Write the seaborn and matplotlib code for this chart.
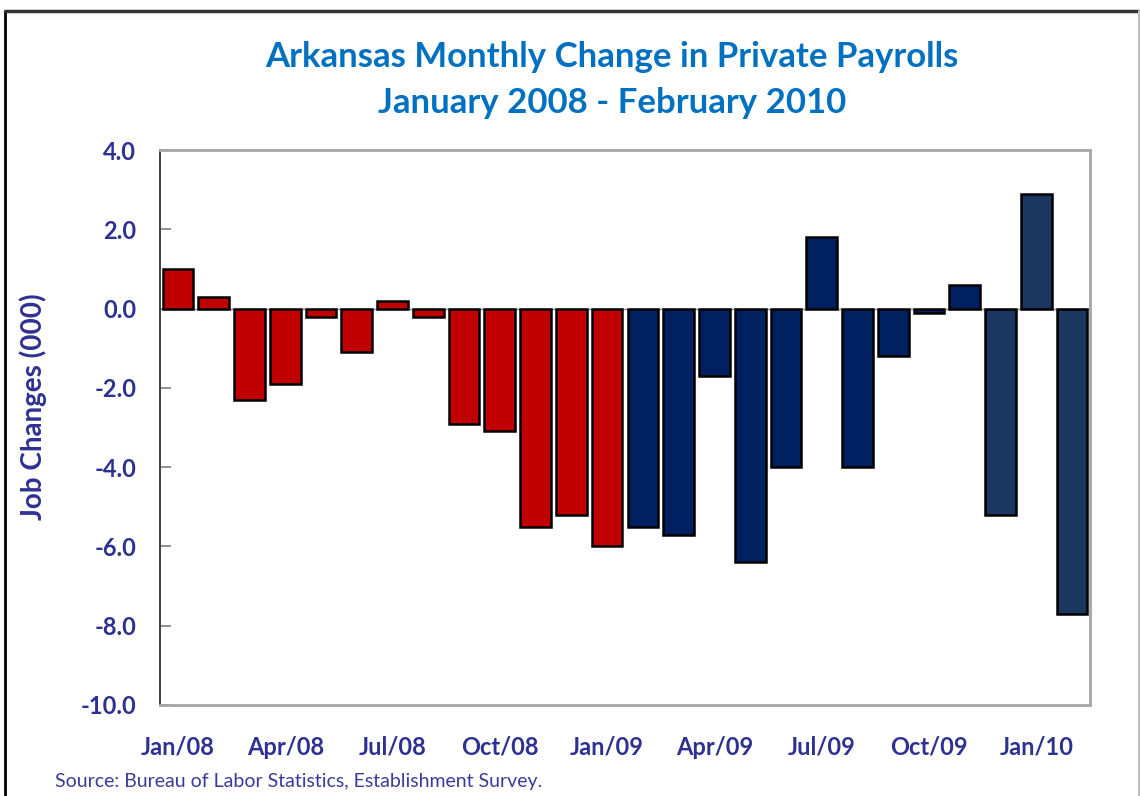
import matplotlib
matplotlib.use("Agg")
import matplotlib.pyplot as plt
import seaborn as sns
import pandas as pd
from matplotlib.lines import Line2D

months = ["Jan/08", "Feb/08", "Mar/08", "Apr/08", "May/08", "Jun/08", "Jul/08", "Aug/08",
          "Sep/08", "Oct/08", "Nov/08", "Dec/08", "Jan/09", "Feb/09", "Mar/09", "Apr/09",
          "May/09", "Jun/09", "Jul/09", "Aug/09", "Sep/09", "Oct/09", "Nov/09", "Dec/09",
          "Jan/10", "Feb/10"]
values = [1.0, 0.3, -2.3, -1.9, -0.2, -1.1, 0.2, -0.2, -2.9, -3.1, -5.5, -5.2, -6.0,
          -5.5, -5.7, -1.7, -6.4, -4.0, 1.8, -4.0, -1.2, -0.1, 0.6, -5.2, 2.9, -7.7]
groups = ["A"] * 13 + ["B"] * 10 + ["C"] * 3
group_colors = {"A": "#C00000", "B": "#002060", "C": "#1B365F"}
tick_every = 3
y_ticks = [4.0, 2.0, 0.0, -2.0, -4.0, -6.0, -8.0, -10.0]

title = "Arkansas Monthly Change in Private Payrolls\nJanuary 2008 - February 2010"
ylabel = "Job Changes (000)"
source = "Source: Bureau of Labor Statistics, Establishment Survey."

sns.set_theme(style="white")
plt.rcParams["font.family"] = ["Lato", "DejaVu Sans"]

df = pd.DataFrame({"month": months, "value": values, "group": groups})

fig = plt.figure(figsize=(11.4, 7.96), dpi=100)
ax = fig.add_axes([160 / 1140, 1 - 705 / 796, 930 / 1140, 555 / 796])

sns.barplot(data=df, x="month", y="value", hue="group", palette=group_colors,
            dodge=False, width=0.86, edgecolor="black", linewidth=1.8,
            saturation=1, legend=False, ax=ax, order=months)

ax.axhline(0, color="#8C8C8C", lw=1.0, zorder=0.5)
ax.set_ylim(-10, 4)
ax.set_xlim(-0.5, len(months) - 0.5)
ax.set_yticks(y_ticks)
ax.set_yticklabels([f"{t:.1f}" for t in y_ticks])
ax.set_xticks(range(0, len(months), tick_every))
ax.set_xticklabels(months[::tick_every])

lab_color = "#2E3192"
ax.tick_params(axis="y", direction="in", length=8, width=1.2, color="#7F7F7F",
               pad=17, labelsize=17, labelcolor=lab_color, left=True)
ax.tick_params(axis="x", length=0, pad=22, labelsize=17, labelcolor=lab_color)
for lbl in ax.get_xticklabels() + ax.get_yticklabels():
    lbl.set_fontweight("bold")

ax.set_xlabel("")
ax.set_ylabel(ylabel, fontsize=20, fontweight="bold", color=lab_color)
ax.yaxis.set_label_coords((47 - 160) / 930, (705 - 407) / 555)

for side in ["top", "right", "bottom"]:
    ax.spines[side].set_color("#A6A6A6")
    ax.spines[side].set_linewidth(2.0)
ax.spines["left"].set_color("#404040")
ax.spines["left"].set_linewidth(1.4)

fig.text(612 / 1140, 1 - 80 / 796, title, ha="center", va="center", fontsize=25,
         fontweight="bold", color="#0070C0", linespacing=1.55)
fig.text(55 / 1140, 1 - 782 / 796, source, ha="left", va="center", fontsize=14,
         color="#3B3B98")

# outer chart frame
fig.add_artist(Line2D([5 / 1140, 5 / 1140], [0, 1 - 11 / 796], transform=fig.transFigure,
                      color="black", lw=2))
fig.add_artist(Line2D([5 / 1140, 1139 / 1140], [1 - 11 / 796, 1 - 11 / 796],
                      transform=fig.transFigure, color="#333333", lw=2.5))
fig.add_artist(Line2D([1138.5 / 1140, 1138.5 / 1140], [0, 1 - 11 / 796],
                      transform=fig.transFigure, color="#BFBFBF", lw=1.5))

fig.savefig("out.png", dpi=100, facecolor="white")
